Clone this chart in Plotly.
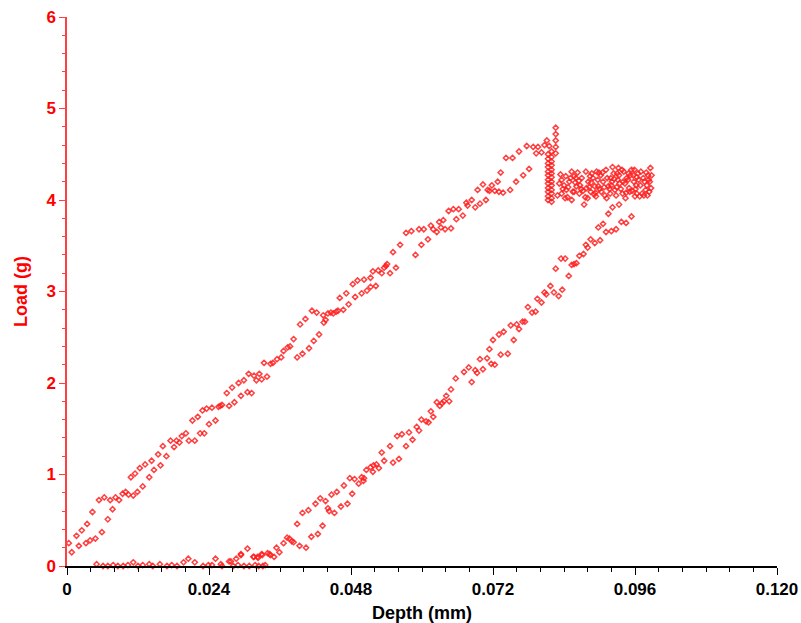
import plotly.graph_objects as go

# ---------------- data (depth in mm, load in g) ----------------
load_depth = [0.0003,0.0008,0.0016,0.0020,0.0025,0.0032,0.0034,0.0039,0.0043,0.0048,0.0054,0.0059,0.0063,0.0069,0.0073,0.0077,0.0082,0.0088,0.0094,0.0099,
              0.0104,0.0108,0.0112,0.0115,0.0119,0.0123,0.0128,0.0132,0.0139,0.0143,0.0147,0.0154,0.0158,0.0162,0.0168,0.0175,0.0181,0.0185,0.0190,0.0194,
              0.0201,0.0206,0.0212,0.0216,0.0221,0.0225,0.0229,0.0232,0.0236,0.0240,0.0245,0.0251,0.0256,0.0259,0.0262,0.0270,0.0274,0.0279,0.0283,0.0290,
              0.0294,0.0299,0.0305,0.0307,0.0312,0.0316,0.0320,0.0325,0.0329,0.0333,0.0338,0.0344,0.0348,0.0355,0.0362,0.0366,0.0373,0.0377,0.0383,0.0389,
              0.0394,0.0398,0.0403,0.0409,0.0414,0.0417,0.0422,0.0426,0.0433,0.0434,0.0437,0.0441,0.0446,0.0450,0.0455,0.0458,0.0461,0.0467,0.0472,0.0476,
              0.0483,0.0487,0.0491,0.0498,0.0502,0.0507,0.0513,0.0513,0.0517,0.0522,0.0526,0.0532,0.0536,0.0539,0.0541,0.0546,0.0551,0.0556,0.0563,0.0573,
              0.0582,0.0589,0.0595,0.0599,0.0603,0.0610,0.0615,0.0619,0.0625,0.0629,0.0632,0.0636,0.0639,0.0645,0.0649,0.0653,0.0658,0.0662,0.0669,0.0675,
              0.0677,0.0684,0.0690,0.0694,0.0698,0.0703,0.0708,0.0711,0.0714,0.0718,0.0723,0.0728,0.0730,0.0733,0.0737,0.0742,0.0749,0.0753,0.0759,0.0764,
              0.0771,0.0777,0.0781,0.0788,0.0793,0.0796,0.0802,0.0807,0.0811,0.0815]
load_force = [0.25,0.15,0.33,0.22,0.39,0.25,0.46,0.28,0.59,0.30,0.72,0.37,0.75,0.51,0.72,0.62,0.75,0.72,0.79,0.81,
              0.78,0.97,0.77,1.01,0.81,1.07,0.87,1.11,0.97,1.15,1.05,1.22,1.10,1.31,1.20,1.37,1.30,1.37,1.35,1.42,
              1.45,1.37,1.59,1.37,1.63,1.45,1.70,1.45,1.72,1.55,1.73,1.59,1.74,1.75,1.76,1.89,1.75,1.95,1.79,2.00,
              1.86,2.03,1.90,2.10,1.89,2.08,2.03,2.10,2.04,2.22,2.07,2.21,2.22,2.26,2.28,2.35,2.39,2.40,2.48,2.28,
              2.64,2.32,2.70,2.38,2.79,2.46,2.77,2.53,2.74,2.66,2.69,2.76,2.77,2.76,2.78,2.79,2.93,2.80,2.98,2.86,
              3.08,2.94,3.12,2.98,3.13,3.01,3.15,3.05,3.22,3.06,3.23,3.20,3.26,3.28,3.30,3.20,3.43,3.26,3.51,3.64,
              3.66,3.40,3.68,3.51,3.68,3.57,3.72,3.68,3.65,3.76,3.70,3.78,3.68,3.88,3.69,3.90,3.79,3.90,3.83,3.97,
              3.94,4.00,3.92,4.11,3.96,4.17,4.00,4.11,4.10,4.16,4.10,4.20,4.09,4.30,4.08,4.46,4.11,4.46,4.20,4.53,
              4.27,4.59,4.34,4.58,4.51,4.58,4.52,4.60,4.65,4.59]

hold_depth = [0.0826,0.0826,0.0826,0.0826,0.0826,
              0.0813,0.0813,0.0813,0.0813,0.0813,0.0813,0.0813,0.0813,0.0813,0.0813,0.0813,0.0813,
              0.0819,0.0819,0.0819,0.0819,0.0819,0.0819,0.0819,0.0819,0.0819,0.0819,0.0819,0.0819,0.0819,
              0.0836,0.0840,0.0844,0.0849,0.0853,0.0853,0.0857,0.0861,0.0866,0.0870,0.0874,0.0877,0.0881,0.0885,0.0889,0.0894,0.0898,0.0902,0.0906,0.0911,
              0.0915,0.0919,0.0922,0.0926,0.0930,0.0934,0.0939,0.0941,0.0946,0.0950,0.0954,0.0958,0.0963,0.0965,0.0969,0.0974,0.0978,0.0982,0.0986,0.0985,
              0.0836,0.0843,0.0860,0.0867,0.0884,0.0892,0.0903,0.0918,0.0933,0.0949,0.0960,0.0968,0.0980,0.0984,0.0895,0.0878,0.0857,0.0932,0.0957,0.0920,
              0.0838,0.0846,0.0851,0.0859,0.0863,0.0872,0.0876,0.0883,0.0887,0.0891,0.0897,0.0900,0.0905,0.0909,0.0913,0.0917,0.0921,0.0924,0.0928,0.0931,
              0.0936,0.0938,0.0943,0.0945,0.0948,0.0952,0.0955,0.0959,0.0962,0.0966,0.0970,0.0972,0.0976,0.0979,0.0981,0.0983,0.0987,0.0988,0.0963,0.0940,
              0.0829,0.0832,0.0834,0.0842,0.0847,0.0855,0.0865,0.0869,0.0880,0.0886,0.0893,0.0899,0.0908,0.0912,0.0925,0.0929,0.0944,0.0951,0.0961,0.0975]
hold_force = [4.79,4.72,4.65,4.58,4.51,
              4.50,4.45,4.40,4.36,4.31,4.27,4.22,4.18,4.13,4.09,4.04,4.00,
              4.53,4.47,4.42,4.38,4.33,4.29,4.25,4.20,4.16,4.11,4.07,4.02,3.98,
              4.22,4.16,4.11,4.20,4.31,4.00,4.26,4.15,4.07,4.24,3.95,4.31,4.20,4.09,4.24,4.04,4.15,4.27,4.20,4.33,
              4.15,4.24,4.36,4.11,4.29,4.18,4.07,4.31,4.24,4.13,4.33,4.20,4.07,4.29,4.16,4.24,4.11,4.27,4.35,4.20,
              4.07,4.26,4.24,4.16,4.26,4.15,4.09,4.07,4.27,4.29,4.04,4.04,4.16,4.09,4.31,4.13,4.09,4.35,4.27,4.16,
              4.12,4.03,4.24,4.19,4.30,4.10,4.03,4.14,4.29,4.06,4.22,4.12,4.30,4.05,4.24,4.12,4.20,4.29,4.05,4.22,
              4.12,4.33,4.18,4.08,4.22,4.27,4.10,4.33,4.16,4.22,4.31,4.07,4.20,4.30,4.05,4.22,4.13,4.27,4.25,4.20,
              4.05,4.18,4.28,4.02,4.14,4.09,4.21,4.12,4.02,4.19,4.08,4.30,4.14,4.02,4.23,4.14,4.02,4.09,4.12,4.05]

unload_depth = [0.0954,0.0945,0.0937,0.0933,0.0928,0.0920,0.0911,0.0922,0.0915,0.0906,0.0898,0.0901,0.0892,0.0885,0.0880,0.0877,0.0873,0.0866,0.0861,0.0857,
                0.0853,0.0842,0.0835,0.0826,0.0848,0.0837,0.0831,0.0823,0.0817,0.0810,0.0807,0.0802,0.0795,0.0792,0.0786,0.0779,0.0774,0.0770,0.0764,0.0760,
                0.0750,0.0755,0.0738,0.0730,0.0720,0.0714,0.0745,0.0733,0.0723,0.0717,0.0710,0.0698,0.0703,0.0693,0.0690,0.0679,0.0671,0.0684,0.0657,0.0649,
                0.0641,0.0646,0.0625,0.0630,0.0634,0.0637,0.0615,0.0619,0.0599,0.0607,0.0611,0.0591,0.0595,0.0578,0.0566,0.0558,0.0584,0.0573,0.0546,0.0532,
                0.0536,0.0551,0.0561,0.0527,0.0523,0.0518,0.0513,0.0506,0.0517,0.0498,0.0501,0.0502,0.0486,0.0493,0.0478,0.0468,0.0482,0.0456,0.0447,0.0437,
                0.0428,0.0420,0.0474,0.0463,0.0441,0.0443,0.0452,0.0408,0.0398,0.0389,0.0432,0.0424,0.0413,0.0383,0.0380,0.0376,0.0372,0.0366,0.0359,0.0354,
                0.0404,0.0393,0.0350,0.0342,0.0339,0.0329,0.0323,0.0315,0.0305,0.0294,0.0286,0.0277]
unload_force = [3.82,3.75,3.76,3.95,3.68,3.66,3.65,3.92,3.85,3.74,3.70,3.56,3.53,3.57,3.48,3.51,3.41,3.39,3.31,3.30,
                3.29,3.36,3.36,3.25,3.17,3.02,2.95,2.99,3.06,2.97,2.99,2.88,2.92,2.78,2.77,2.83,2.67,2.67,2.59,2.64,
                2.63,2.47,2.56,2.53,2.47,2.37,2.32,2.31,2.20,2.21,2.27,2.26,2.15,2.11,2.14,2.17,2.12,2.01,2.05,1.93,
                1.86,1.80,1.79,1.75,1.78,1.80,1.69,1.63,1.60,1.58,1.57,1.52,1.48,1.46,1.44,1.42,1.38,1.31,1.31,1.24,
                1.15,1.13,1.17,1.07,1.11,1.10,1.08,1.05,1.03,0.97,0.93,0.96,0.95,0.90,0.96,0.88,0.79,0.81,0.78,0.71,
                0.74,0.68,0.68,0.65,0.63,0.60,0.58,0.61,0.58,0.46,0.44,0.35,0.32,0.26,0.27,0.30,0.31,0.25,0.15,0.20,
                0.20,0.22,0.10,0.13,0.14,0.13,0.09,0.10,0.19,0.13,0.08,0.05]

base_depth = [0.0050,0.0112,0.0139,0.0157,0.0197,0.0205,0.0216,0.0239,0.0251,0.0260,0.0274,0.0294,0.0316,0.0322,0.0330,0.0335,0.0344,
              0.0061,0.0069,0.0078,0.0086,0.0095,0.0103,0.0120,0.0128,0.0145,0.0169,0.0177,0.0186,0.0230,0.0245,0.0262,0.0281,0.0289,0.0299,
              0.0308,0.0318,0.0324,0.0331]
base_force = [0.02,0.04,0.02,0.02,0.04,0.08,0.04,0.01,0.08,0.02,0.05,0.12,0.10,0.10,0.12,0.01,0.12,
              0.00,0.00,0.01,0.00,0.00,0.01,0.00,0.01,0.00,0.00,0.01,0.00,0.00,0.01,0.00,0.00,0.01,0.00,
              0.00,0.01,0.00,0.00]

x_tickvals = [0, 0.024, 0.048, 0.072, 0.096, 0.120]
x_ticktext = ["0", "0.024", "0.048", "0.072", "0.096", "0.120"]
y_tickvals = [0, 1, 2, 3, 4, 5, 6]
y_ticktext = ["0", "1", "2", "3", "4", "5", "6"]

# ---------------- figure ----------------
marker = dict(symbol="diamond-open", size=4, color="rgba(255,30,30,0.85)", line=dict(width=1.5))

fig = go.Figure()
for xs, ys in [(load_depth, load_force), (hold_depth, hold_force),
               (unload_depth, unload_force), (base_depth, base_force)]:
    fig.add_trace(go.Scatter(x=xs, y=ys, mode="markers", marker=marker,
                             cliponaxis=False, showlegend=False, hoverinfo="x+y"))

fig.update_layout(
    width=801, height=623,
    margin=dict(l=67, r=24, t=17, b=57),
    paper_bgcolor="white", plot_bgcolor="white",
    font=dict(family="Liberation Sans, Arial, sans-serif"),
)
fig.update_xaxes(
    range=[0, 0.12], showgrid=False, zeroline=False, automargin=False,
    showline=True, linecolor="black", linewidth=1.5,
    ticks="outside", ticklen=7, tickwidth=1.2, tickcolor="black",
    tickvals=x_tickvals, ticktext=x_ticktext, ticklabeloverflow="allow",
    tickfont=dict(size=17, color="black", family="Liberation Sans, Arial, sans-serif", weight="bold"),
    minor=dict(dtick=0.004, ticks="outside", ticklen=4, tickwidth=1.2, tickcolor="black", showgrid=False),
    title=dict(text="<b>Depth (mm)</b>", font=dict(size=18, color="black"), standoff=10),
)
fig.update_yaxes(
    range=[0, 6], showgrid=False, zeroline=False, automargin=False,
    showline=True, linecolor="#ff4040", linewidth=1.5,
    ticks="outside", ticklen=6, tickwidth=1.2, tickcolor="#ff4040",
    tickvals=y_tickvals, ticktext=y_ticktext, ticklabeloverflow="allow",
    tickfont=dict(size=17, color="#ff0000", family="Liberation Sans, Arial, sans-serif", weight="bold"),
    minor=dict(dtick=0.2, ticks="outside", ticklen=3, tickwidth=1.2, tickcolor="#ff4040", showgrid=False),
    title=dict(text="<b>Load (g)</b>", font=dict(size=18, color="#ff0000"), standoff=14),
)

# remove the default 8px page margin so the 801x623 figure fills the window exactly
fig.write_html("out.html", config={"displayModeBar": False},
               post_script="document.body.style.margin='0';")
